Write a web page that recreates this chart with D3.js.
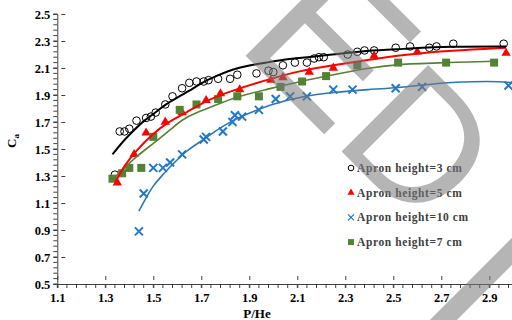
<!DOCTYPE html>
<html>
<head>
<meta charset="utf-8">
<script src="https://cdn.jsdelivr.net/npm/d3@7"></script>
<style>
  body { margin: 0; background: #fff; }
  svg { display: block; }
</style>
</head>
<body>
<div id="chart"></div>
<script>
// Apron height = 3 cm (open circles)
const apron3 = [
  [1.34,1.31],[1.36,1.63],[1.38,1.63],[1.40,1.65],[1.43,1.71],[1.47,1.73],[1.49,1.74],
  [1.51,1.77],[1.55,1.83],[1.58,1.89],[1.62,1.95],[1.65,1.99],[1.68,2.00],[1.71,2.00],
  [1.73,2.01],[1.77,2.02],[1.82,2.02],[1.85,2.05],[1.93,2.06],[1.98,2.08],[2.00,2.07],
  [2.04,2.12],[2.09,2.14],[2.14,2.14],[2.17,2.17],[2.19,2.18],[2.21,2.18],[2.31,2.20],
  [2.35,2.22],[2.38,2.23],[2.42,2.23],[2.51,2.25],[2.57,2.26],[2.65,2.25],[2.68,2.26],
  [2.75,2.28],[2.96,2.28]
];
// Apron height = 5 cm (triangles)
const apron5 = [
  [1.35,1.25],[1.42,1.46],[1.47,1.62],[1.55,1.70],[1.62,1.77],[1.72,1.86],[1.78,1.91],
  [1.86,1.94],[1.99,2.01],[2.04,2.03],[2.15,2.07],[2.25,2.10],[2.42,2.19],[2.60,2.22],
  [2.97,2.21]
];
// Apron height = 10 cm (crosses)
const apron10 = [
  [1.44,0.89],[1.46,1.17],[1.50,1.36],[1.54,1.36],[1.57,1.40],[1.62,1.46],[1.71,1.57],
  [1.72,1.59],[1.79,1.63],[1.83,1.70],[1.84,1.75],[1.87,1.74],[1.94,1.79],[2.01,1.87],
  [2.07,1.89],[2.14,1.89],[2.25,1.94],[2.33,1.94],[2.51,1.95],[2.62,1.96],[2.98,1.97]
];
// Apron height = 7 cm (squares)
const apron7 = [
  [1.33,1.28],[1.37,1.32],[1.40,1.36],[1.45,1.36],[1.50,1.59],[1.61,1.79],[1.68,1.83],
  [1.77,1.87],[1.85,1.89],[1.94,1.89],[2.03,1.96],[2.12,2.00],[2.22,2.04],[2.35,2.12],
  [2.52,2.14],[2.72,2.14],[2.92,2.14]
];

// trend lines
const trend3 = [
  [1.33,1.46],[1.37,1.55],[1.42,1.64],[1.46,1.71],[1.51,1.77],[1.55,1.83],[1.60,1.88],
  [1.65,1.93],[1.70,1.99],[1.76,2.04],[1.83,2.09],[1.90,2.12],[1.97,2.14],[2.07,2.17],
  [2.15,2.18],[2.25,2.20],[2.39,2.23],[2.53,2.24],[2.74,2.26],[2.97,2.26]
];
const trend5 = [
  [1.34,1.25],[1.38,1.38],[1.43,1.49],[1.49,1.60],[1.56,1.70],[1.64,1.77],[1.72,1.86],
  [1.84,1.94],[1.97,2.01],[2.11,2.08],[2.25,2.12],[2.39,2.16],[2.55,2.20],[2.74,2.23],
  [2.97,2.25]
];
const trend10 = [
  [1.44,1.04],[1.47,1.14],[1.50,1.23],[1.53,1.29],[1.56,1.35],[1.60,1.42],[1.64,1.49],
  [1.71,1.57],[1.78,1.66],[1.85,1.73],[1.92,1.78],[1.99,1.83],[2.12,1.89],[2.25,1.92],
  [2.39,1.94],[2.56,1.96],[2.70,1.99],[2.83,2.00],[2.95,2.00],[3.00,1.99]
];
const trend7 = [
  [1.32,1.26],[1.37,1.34],[1.42,1.43],[1.47,1.50],[1.52,1.57],[1.57,1.64],[1.62,1.72],
  [1.68,1.77],[1.74,1.81],[1.85,1.89],[1.97,1.94],[2.11,2.00],[2.25,2.05],[2.39,2.10],
  [2.53,2.13],[2.72,2.14],[2.92,2.15]
];

const xTicks = [1.1,1.3,1.5,1.7,1.9,2.1,2.3,2.5,2.7,2.9];
const yTicks = [0.5,0.7,0.9,1.1,1.3,1.5,1.7,1.9,2.1,2.3,2.5];
const legendNames = ["Apron height=3 cm","Apron height=5 cm","Apron height=10 cm","Apron height=7 cm"];

const width = 512, height = 320;
const svg = d3.select("#chart").append("svg")
  .attr("width", width).attr("height", height);

const x = d3.scaleLinear().domain([1.1, 3.0]).range([57.3, 513.3]);
const y = d3.scaleLinear().domain([0.5, 2.5]).range([284, 14]);

const serif = "'Liberation Serif','Times New Roman',serif";

// minor ticks
const xMinor = d3.range(1.1, 3.0001, 0.04);
const yMinor = d3.range(0.5, 2.5001, 0.04);
svg.append("g").selectAll("line").data(xMinor).enter().append("line")
  .attr("x1", d => x(d)).attr("x2", d => x(d))
  .attr("y1", y(0.5)).attr("y2", y(0.5) + 4)
  .attr("stroke", "#404040").attr("stroke-width", 1);
svg.append("g").selectAll("line").data(yMinor).enter().append("line")
  .attr("x1", x(1.1) - 4).attr("x2", x(1.1))
  .attr("y1", d => y(d)).attr("y2", d => y(d))
  .attr("stroke", "#404040").attr("stroke-width", 1);

// axes
const xAxis = svg.append("g")
  .attr("transform", `translate(0,${y(0.5)})`)
  .call(d3.axisBottom(x).tickValues(xTicks).tickSize(4).tickFormat(d3.format(".1f")));
const yAxis = svg.append("g")
  .attr("transform", `translate(${x(1.1)},0)`)
  .call(d3.axisLeft(y).tickValues(yTicks).tickSize(4).tickFormat(d3.format(".1f")));
[xAxis, yAxis].forEach(g => {
  g.select(".domain").attr("stroke", "#404040");
  g.selectAll(".tick line").attr("stroke", "#404040").clone()
    .attr("transform", g === xAxis ? "translate(0,-8)" : "translate(8,0)");
  g.selectAll(".tick text")
    .attr("font-family", serif).attr("font-weight", "bold")
    .attr("font-size", 12.5).attr("fill", "#000");
});
xAxis.selectAll(".tick text").attr("dy", "0.9em");
yAxis.selectAll(".tick text").attr("x", -7);

svg.append("text")
  .attr("x", 257).attr("y", 318)
  .attr("text-anchor", "middle")
  .attr("font-family", serif).attr("font-weight", "bold").attr("font-size", 13)
  .text("P/He");

const yl = svg.append("text")
  .attr("transform", "translate(16,141) rotate(-90)")
  .attr("text-anchor", "middle")
  .attr("font-family", serif).attr("font-weight", "bold").attr("font-size", 13);
yl.append("tspan").text("C");
yl.append("tspan").attr("font-size", 9).attr("dy", 3).text("a");

// trend lines
const line = d3.line().x(d => x(d[0])).y(d => y(d[1])).curve(d3.curveBasis);
const trends = [
  {data: trend10, color: "#2e75b6", w: 1.6},
  {data: trend7, color: "#548235", w: 1.6},
  {data: trend5, color: "#ff0000", w: 2},
  {data: trend3, color: "#000000", w: 2}
];

// markers
const plot = svg.append("g");
plot.selectAll(".c3").data(apron3).enter().append("circle")
  .attr("cx", d => x(d[0])).attr("cy", d => y(d[1])).attr("r", 3.8)
  .attr("fill", "none").attr("stroke", "#000").attr("stroke-width", 1);
plot.selectAll(".t5").data(apron5).enter().append("path")
  .attr("transform", d => `translate(${x(d[0])},${y(d[1])})`)
  .attr("d", d3.symbol(d3.symbolTriangle, 38))
  .attr("fill", "#ff0000");
plot.selectAll(".s7").data(apron7).enter().append("rect")
  .attr("x", d => x(d[0]) - 4).attr("y", d => y(d[1]) - 4)
  .attr("width", 8).attr("height", 8)
  .attr("fill", "#548235");
plot.selectAll(".x10").data(apron10).enter().append("path")
  .attr("transform", d => `translate(${x(d[0])},${y(d[1])})`)
  .attr("d", "M-4,-4L4,4M-4,4L4,-4")
  .attr("stroke", "#1f78c8").attr("stroke-width", 2).attr("fill", "none");

trends.forEach(t => {
  svg.append("path").datum(t.data)
    .attr("d", line)
    .attr("fill", "none").attr("stroke", t.color).attr("stroke-width", t.w);
});

// legend
const legend = svg.append("g").attr("transform", "translate(351,168)");
const rows = legend.selectAll("g").data(legendNames).enter().append("g")
  .attr("transform", (d, i) => `translate(0,${i * 24.7})`);
rows.append("text")
  .attr("x", 6).attr("dy", "0.35em")
  .attr("font-family", serif).attr("font-weight", "bold").attr("font-size", 11.5)
  .attr("letter-spacing", 0.6).attr("fill", "#404040")
  .text(d => d);
legend.append("circle").attr("r", 2.8).attr("fill", "none").attr("stroke", "#000").attr("stroke-width", 1);
legend.append("path").attr("transform", `translate(0,${24.7})`)
  .attr("d", d3.symbol(d3.symbolTriangle, 22)).attr("fill", "#ff0000");
legend.append("path").attr("transform", `translate(0,${2 * 24.7})`)
  .attr("d", "M-3,-3L3,3M-3,3L3,-3").attr("stroke", "#1f78c8").attr("stroke-width", 1.2);
legend.append("rect").attr("x", -3).attr("y", 3 * 24.7 - 3).attr("width", 6).attr("height", 6)
  .attr("fill", "#548235");

// watermark (big grey letters laid over the plot)
const wmLetters = [
  {t: "E", x: -16, y: 0, size: 205},
  {t: "D", x: 122, y: 0, size: 178},
  {t: "I", x: 299, y: 70, size: 205}
];
svg.append("g")
  .attr("transform", "translate(245,55) rotate(45)")
  .attr("opacity", 0.55)
  .selectAll("text").data(wmLetters).enter().append("text")
    .attr("x", d => d.x).attr("y", d => d.y)
    .attr("font-family", "'Liberation Sans',Arial,sans-serif")
    .attr("font-size", d => d.size)
    .attr("fill", "#7a7a7a")
    .text(d => d.t);
</script>
</body>
</html>
